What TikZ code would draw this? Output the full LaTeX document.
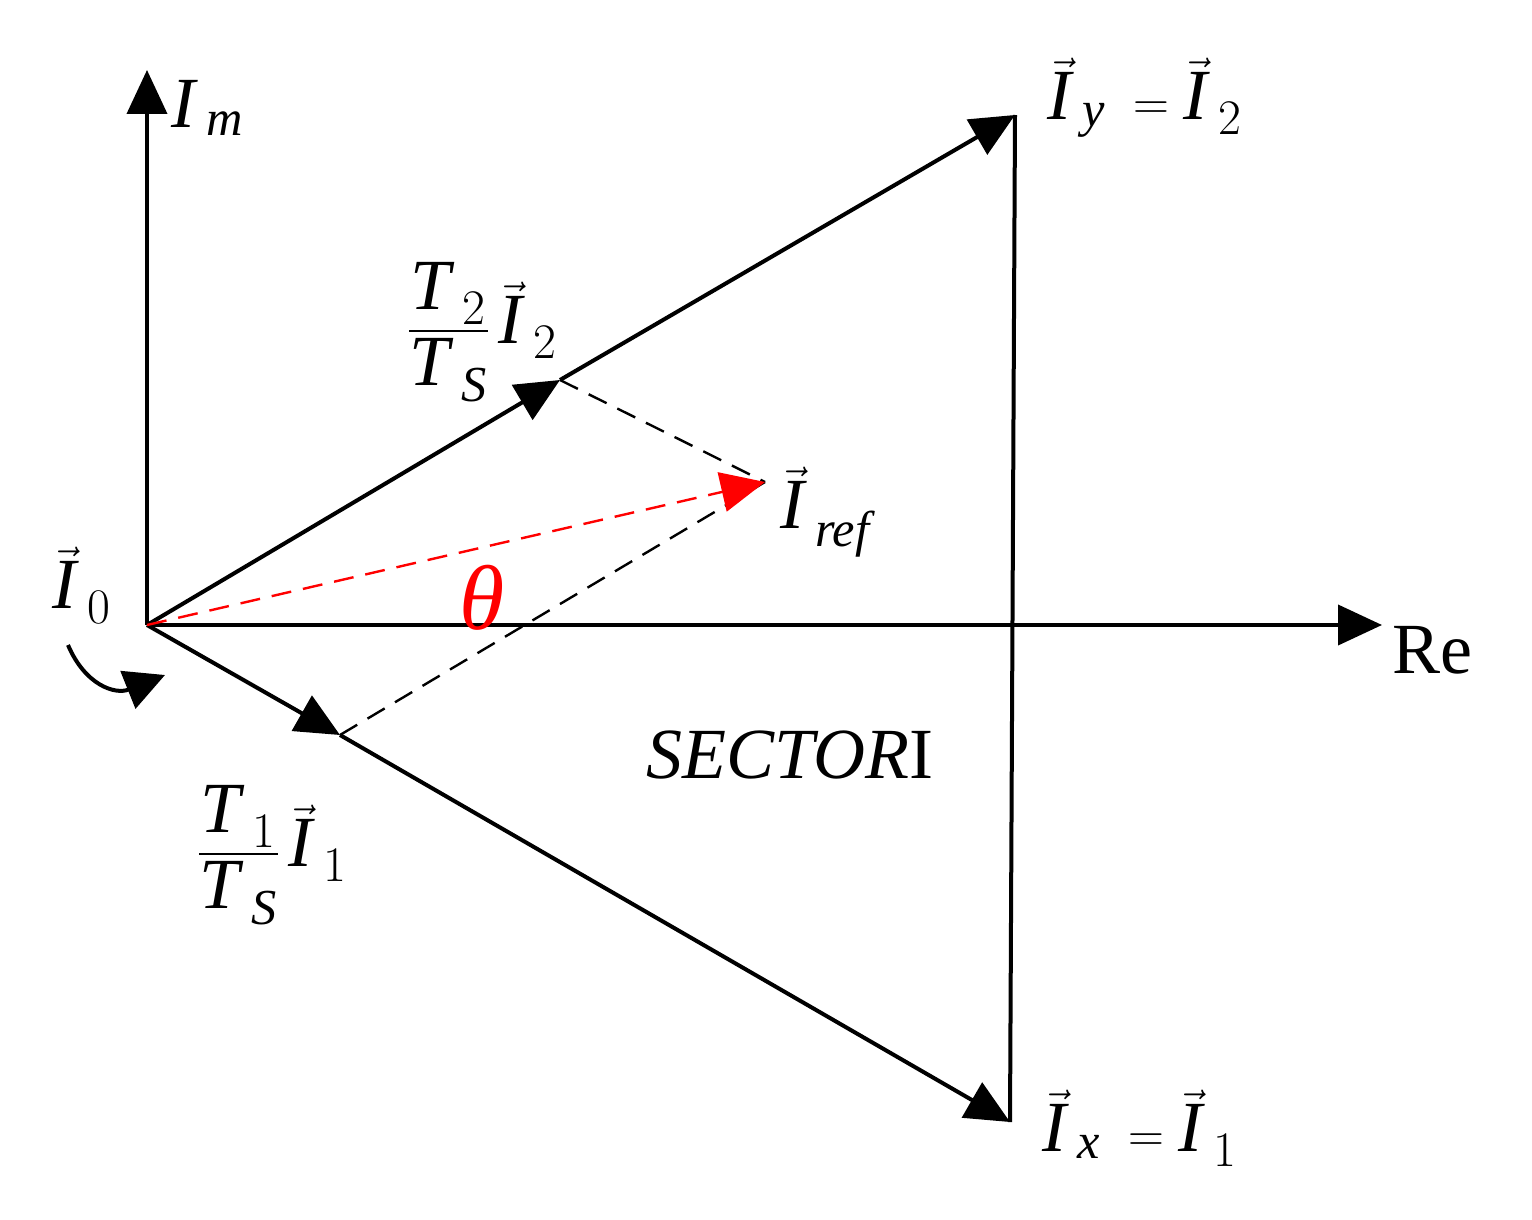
\documentclass[tikz,border=0pt]{standalone}
\usepackage{amsmath}
\usepackage{fontspec}
\setmainfont{Liberation Serif}
\usetikzlibrary{arrows.meta,decorations.markings}
\newcommand\vI{\vec{\text{\textit{I}}}}
\newcommand\ti[1]{\text{\textit{#1}}}
\begin{document}
\begin{tikzpicture}[x=0.5pt,y=-0.5pt,
  lab/.style={inner sep=0pt,font=\fontsize{36}{40}\selectfont},
  ln/.style={line width=2pt},
  tip/.style={-{Triangle[length=22pt,width=20pt]}},
  dsh/.style={line width=1.2pt,dash pattern=on 10pt off 6pt}]
\useasboundingbox (0,0) rectangle (1532,1220);
\coordinate (O) at (147,625);
\coordinate (Imt) at (147,70);
\coordinate (Ret) at (1382,625);
\coordinate (Y) at (1015,115);
\coordinate (X) at (1010,1122);
\coordinate (A) at (560,380);
\coordinate (B) at (340,735);
\coordinate (R) at (765,482);
\draw[ln,tip] (O) -- (Imt);
\draw[ln,tip] (O) -- (Ret);
\draw[ln] (Y) -- (X);
\draw[ln,tip] (O) -- (A);
\draw[ln,tip] (A) -- (Y);
\draw[ln,tip] (O) -- (B);
\draw[ln,tip] (B) -- (X);
\draw[dsh] (A) -- (R);
\draw[dsh] (B) -- (R);
\draw[dsh,red,-{Triangle[length=22pt,width=20pt]}] (O) -- (R);
\draw[ln,-{Triangle[length=20pt,width=20pt]}] (68,645) .. controls (85,685) and (115,695) .. (165,675);
\node[lab] (im) at (208,108) {$\ti{I}_{\,\ti{m}}$};
\node[lab] (iy) at (1145,98) {$\vI_{\,\ti{y}}\;=\vI_{\,2}$};
\node[lab] (ix) at (1140,1128) {$\vI_{\,\ti{x}}\;=\vI_{\,1}$};
\node[lab] (iref) at (828,512) {$\vI_{\,\ti{ref}}$};
\node[lab] (i0) at (82,585) {$\vI_{\,0}$};
\node[lab] (re) at (1432,650) {Re};
\node[lab,red,font=\fontsize{46}{50}\selectfont] (th) at (482,598) {\textit{θ}};
\node[lab] (sec) at (790,755) {\textit{SECTOR}I};
\node[lab] (t2) at (482,332) {$\dfrac{\ti{T}_{\,2}}{\ti{T}_{\,\ti{S}}}\,\vI_{\,2}$};
\node[lab] (t1) at (272,855) {$\dfrac{\ti{T}_{\,1}}{\ti{T}_{\,\ti{S}}}\,\vI_{\,1}$};
\end{tikzpicture}
\end{document}
